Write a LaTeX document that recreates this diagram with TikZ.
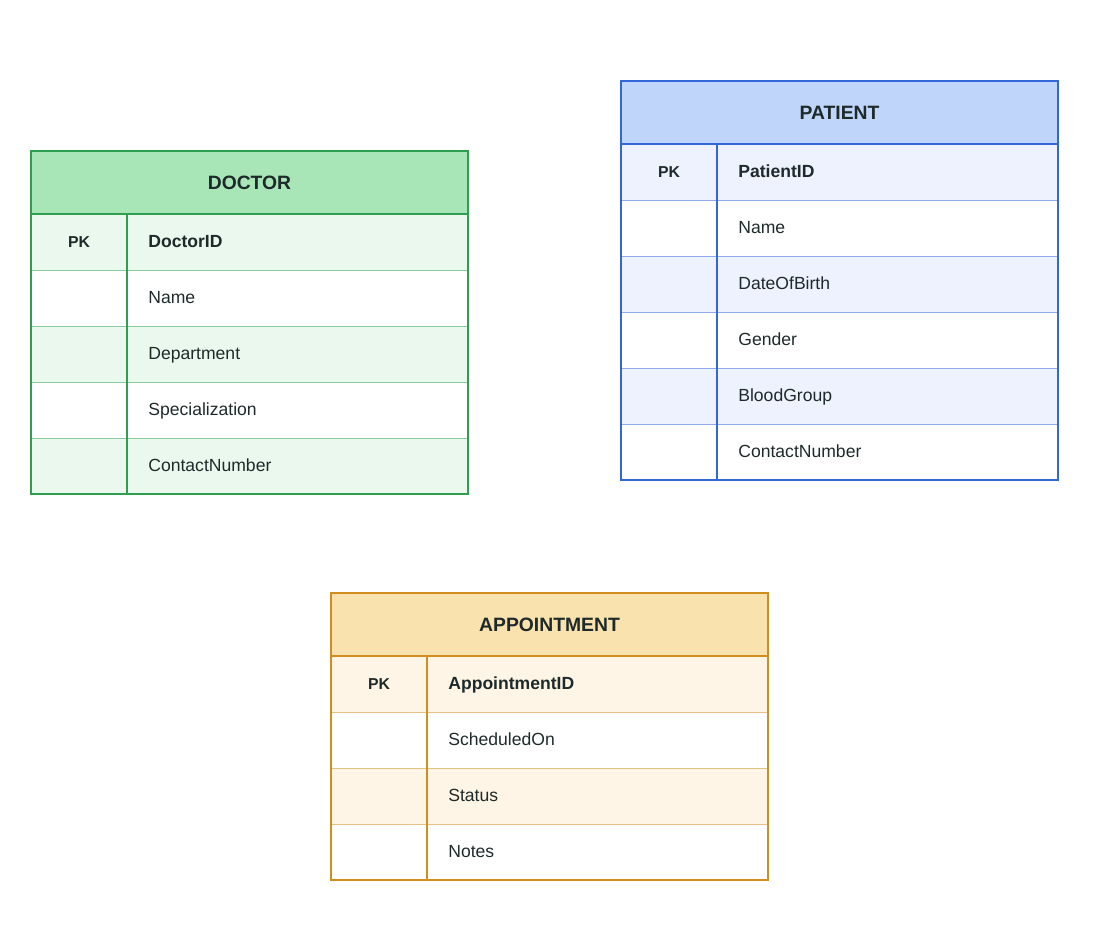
\documentclass[tikz,border=0pt]{standalone}
\usepackage{fontspec}
\setmainfont{Liberation Sans}
\usetikzlibrary{positioning}

\definecolor{docline}{HTML}{2E9E4F}
\definecolor{dochead}{HTML}{A8E6B8}
\definecolor{docrow}{HTML}{EBF8EE}
\definecolor{patline}{HTML}{3366D6}
\definecolor{pathead}{HTML}{BFD5FA}
\definecolor{patrow}{HTML}{EDF2FE}
\definecolor{appline}{HTML}{D08E1E}
\definecolor{apphead}{HTML}{F9E2AE}
\definecolor{approw}{HTML}{FEF5E6}
\definecolor{ink}{HTML}{1E2A2A}

% #1 name, #2 left, #3 top, #4 colour prefix, #5 title, #6 key, #7 other fields
\newcommand\ertable[7]{%
  \fill[#4head] (#2,#3) rectangle ++(437,63);
  \node[title] (#1) at (#2+218.5,#3+31.5) {#5};
  \fill[#4row] (#2,#3+63) rectangle ++(437,56);
  \node[pk] (#1-pk) at (#2+48,#3+91) {PK};
  \node[field,font=\bfseries\fontsize{10}{12}\selectfont] (#1-1) at (#2+117,#3+91) {#6};
  \foreach \f [count=\i from 2] in {#7} {
    \pgfmathsetmacro\yt{#3+63+(\i-1)*56}
    \ifodd\i \fill[#4row] (#2,\yt) rectangle ++(437,56); \fi
    \draw[#4line!55,line width=0.5pt] (#2,\yt) -- ++(437,0);
    \node[field] (#1-\i) at (#2+117,\yt+28) {\f};
    \global\let\ylast\yt
  }
  \draw[#4line,line width=1.1pt] (#2,#3+63) -- ++(437,0);
  \draw[#4line,line width=0.8pt] (#2+96,#3+63) -- (#2+96,\ylast+56);
  \draw[#4line,line width=1.1pt] (#2,#3) rectangle (#2+437,\ylast+56);
}

\begin{document}
\begin{tikzpicture}[x=0.02cm,y=-0.02cm,
  title/.style={font=\bfseries\fontsize{11}{13}\selectfont,text=ink},
  pk/.style={font=\bfseries\fontsize{9}{11}\selectfont,text=ink},
  field/.style={anchor=west,inner sep=0pt,text height=1.6ex,text depth=0.4ex,
    font=\fontsize{10}{12}\selectfont,text=ink}]
  \useasboundingbox (0,0) rectangle (1100,928);

  \ertable{doctor}{31}{151}{doc}{DOCTOR}{DoctorID}{Name,Department,Specialization,ContactNumber}
  \ertable{patient}{621}{81}{pat}{PATIENT}{PatientID}{Name,DateOfBirth,Gender,BloodGroup,ContactNumber}
  \ertable{appointment}{331}{593}{app}{APPOINTMENT}{AppointmentID}{ScheduledOn,Status,Notes}
\end{tikzpicture}
\end{document}
